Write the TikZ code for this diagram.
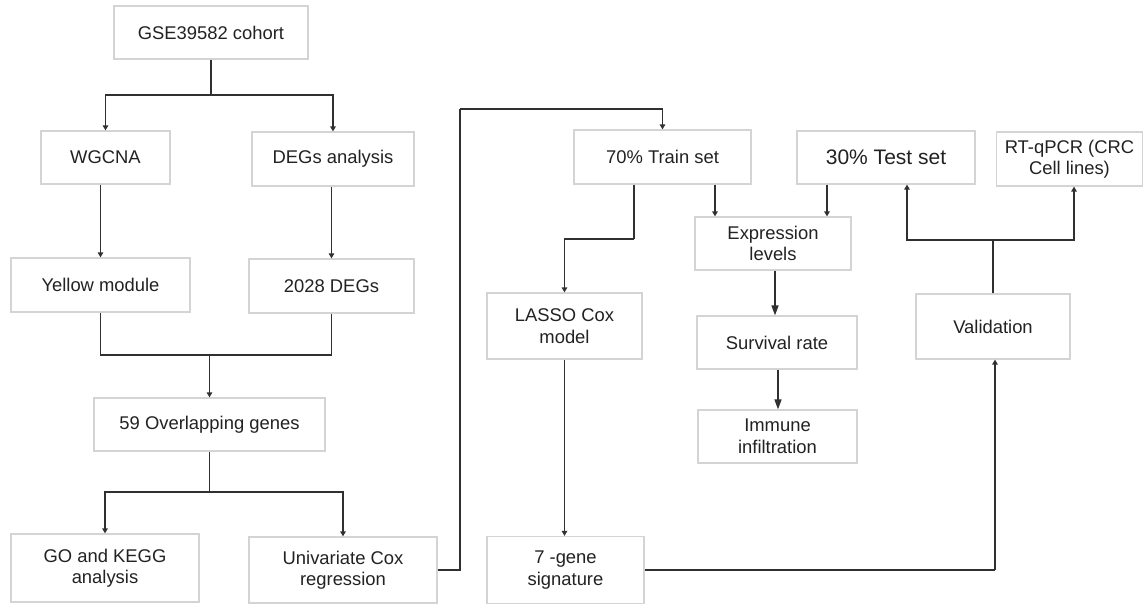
\documentclass[tikz,border=0pt]{standalone}
\usepackage{fontspec}
\setmainfont{Liberation Sans}
\usetikzlibrary{arrows.meta}
\definecolor{boxline}{HTML}{D4D4D4}
\definecolor{conn}{HTML}{303030}
\definecolor{txt}{HTML}{222222}
\begin{document}
\begin{tikzpicture}[x=1pt,y=-1pt,
  box/.style={draw=boxline, line width=1.2pt, fill=white, text=txt, align=center,
    inner sep=0pt, font=\fontsize{18.4}{21.5}\selectfont},
  link/.style={draw=conn, line width=1.5pt},
  arr/.style={link, -{Triangle[length=5pt,width=5.5pt]}},
  bigarr/.style={link, -{Triangle[length=10pt,width=7pt]}}]
\useasboundingbox (0,0) rectangle (1143,604);
% nodes
\node[box, minimum width=194pt, minimum height=53pt] (gse) at (211,32.5) {GSE39582 cohort};
\node[box, minimum width=129pt, minimum height=53pt] (wgcna) at (105.5,157.5) {WGCNA};
\node[box, minimum width=162pt, minimum height=54pt] (degs) at (333,159) {DEGs analysis};
\node[box, minimum width=179pt, minimum height=54pt] (yellow) at (100.5,285) {Yellow module};
\node[box, minimum width=165pt, minimum height=54pt] (d2028) at (331.5,286) {2028 DEGs};
\node[box, minimum width=231pt, minimum height=53pt] (overlap) at (209.5,424.5) {59 Overlapping genes};
\node[box, minimum width=188pt, minimum height=68pt] (gokegg) at (105,568) {GO and KEGG\\analysis};
\node[box, minimum width=188pt, minimum height=66pt] (unicox) at (343,570) {Univariate Cox\\regression};
\node[box, minimum width=177pt, minimum height=54pt] (train) at (662.5,157) {70\% Train set};
\node[box, minimum width=178pt, minimum height=53pt, font=\fontsize{21}{24}\selectfont] (test) at (886,157.5) {30\% Test set};
\node[box, minimum width=146pt, minimum height=54pt] (rtqpcr) at (1069.5,159) {RT-qPCR (CRC\\Cell lines)};
\node[box, minimum width=156pt, minimum height=53pt] (expr) at (773,243.5) {Expression\\levels};
\node[box, minimum width=155pt, minimum height=66pt] (lasso) at (564.5,326) {LASSO Cox\\model};
\node[box, minimum width=160pt, minimum height=53pt] (surv) at (777,342.5) {Survival rate};
\node[box, minimum width=159pt, minimum height=53pt] (immune) at (777.5,436.5) {Immune\\infiltration};
\node[box, minimum width=157pt, minimum height=67pt] (gene7) at (565.5,570) {7 -gene\\signature};
\node[box, minimum width=154pt, minimum height=65pt] (valid) at (993,326.5) {Validation};
% junctions
\coordinate (j1) at (211,95);
\coordinate (j2) at (209.5,355);
\coordinate (j3) at (209.5,492);
\coordinate (j4) at (460,570);
\coordinate (j5) at (460,109);
\coordinate (j6) at (634,239);
\coordinate (j7) at (995,570);
\coordinate (j8) at (993,240);
% connectors
\draw[link] (gse.south) -- (j1);
\draw[arr] (j1) -| (wgcna.north);
\draw[arr] (j1) -| (degs.north);
\draw[arr] (yellow.north |- wgcna.south) -- (yellow.north);
\draw[arr] (d2028.north |- degs.south) -- (d2028.north);
\draw[link] (yellow.south) |- (j2);
\draw[link] (d2028.south) |- (j2);
\draw[arr] (j2) -- (overlap.north);
\draw[link] (overlap.south) -- (j3);
\draw[arr] (j3) -| (gokegg.north);
\draw[arr] (j3) -| (unicox.north);
\draw[link] (unicox.east) -- (j4) -- (j5);
\draw[arr] (j5) -| (train.north);
\draw[arr] ([xshift=52.5pt]train.south) -- ([xshift=52.5pt]train.south |- expr.north);
\draw[arr] ([xshift=-59pt]test.south) -- ([xshift=-59pt]test.south |- expr.north);
\draw[link] (train.south -| j6) -- (j6);
\draw[arr] (j6) -| (lasso.north);
\draw[bigarr] ([xshift=2pt]expr.south) -- ([xshift=2pt]expr.south |- surv.north);
\draw[bigarr] ([xshift=1pt]surv.south) -- ([xshift=1pt]surv.south |- immune.north);
\draw[arr] (lasso.south) -- (gene7.north -| lasso.south);
\draw[link] (gene7.east) -- (j7);
\draw[arr] (j7) -- (valid.south -| j7);
\draw[link] (valid.north) -- (j8);
\draw[arr] (j8) -| ([xshift=21pt]test.south);
\draw[arr] (j8) -| ([xshift=4.5pt]rtqpcr.south);
\end{tikzpicture}
\end{document}
